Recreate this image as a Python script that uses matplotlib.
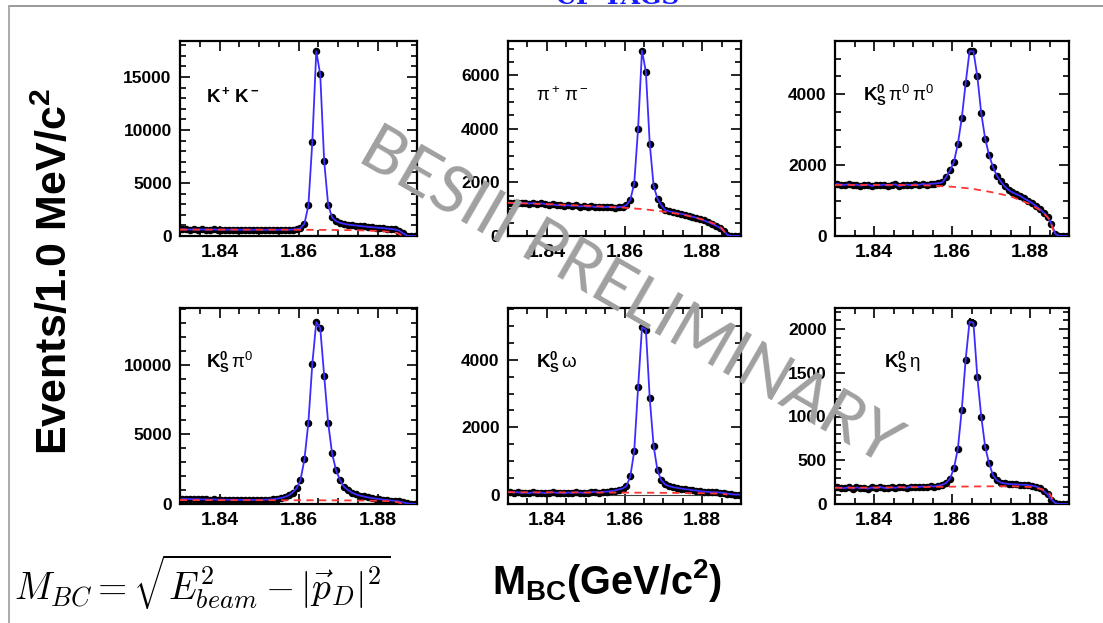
import numpy as np
import matplotlib.pyplot as plt
from matplotlib.lines import Line2D
from matplotlib.ticker import MultipleLocator, FormatStrFormatter

plt.rcParams['font.family'] = ['Liberation Sans', 'DejaVu Sans']
plt.rcParams['mathtext.fontset'] = 'custom'
plt.rcParams['mathtext.rm'] = 'Liberation Sans'
plt.rcParams['mathtext.it'] = 'Liberation Sans:italic'
plt.rcParams['mathtext.bf'] = 'Liberation Sans:bold'

# bin centres, 1 MeV bins between 1.83 and 1.89 GeV/c^2
mbc = np.arange(60) * 0.001 + 1.8305
bkg_mbc = [1.830, 1.835, 1.840, 1.845, 1.850, 1.855, 1.860, 1.865,
           1.870, 1.875, 1.880, 1.883, 1.885, 1.8865]

kk = [640, 620, 610, 630, 600, 620, 610, 600, 620, 600, 610, 590, 600, 610, 590,
      600, 590, 600, 580, 600, 590, 580, 600, 590, 580, 590, 600, 590, 610, 640,
      720, 1150, 2880, 8890, 17430, 15240, 7060, 2970, 1750, 1400, 1250, 1150, 1080,
      1030, 990, 950, 910, 870, 830, 800, 770, 740, 700, 660, 620, 500, 250, 20, 0, 0]
kk_bkg = [600, 600, 600, 598, 596, 593, 588, 580, 565, 540, 480, 400, 280, 0]

pipi = [1240, 1230, 1250, 1220, 1240, 1210, 1230, 1200, 1220, 1190, 1170, 1180, 1150,
        1160, 1130, 1150, 1120, 1140, 1100, 1120, 1090, 1110, 1080, 1100, 1070, 1090,
        1080, 1060, 1080, 1090, 1150, 1350, 1960, 4010, 6920, 6135, 3450, 1870, 1390,
        1150, 960, 920, 890, 860, 830, 800, 760, 720, 680, 630, 580, 520, 460, 390,
        310, 200, 40, 0, 0, 0]
pipi_bkg = [1240, 1215, 1190, 1160, 1130, 1095, 1055, 1000, 910, 800, 620, 470, 300, 0]

kspi0pi0 = [1470, 1450, 1440, 1460, 1430, 1450, 1420, 1440, 1450, 1410, 1440, 1430,
            1450, 1420, 1440, 1460, 1400, 1440, 1450, 1430, 1460, 1440, 1470, 1450,
            1470, 1480, 1490, 1510, 1660, 1850, 2090, 2600, 3320, 4310, 5210, 5210,
            4500, 3460, 2750, 2280, 1950, 1700, 1540, 1400, 1300, 1230, 1180, 1130,
            1060, 1000, 930, 850, 760, 660, 540, 340, 60, 0, 0, 0]
kspi0pi0_bkg = [1440, 1440, 1440, 1440, 1435, 1420, 1390, 1335, 1240, 1120, 900, 700, 470, 0]

kspi0 = [380, 360, 350, 340, 350, 330, 330, 320, 330, 310, 320, 310, 300, 310, 300,
         300, 290, 300, 290, 300, 300, 310, 320, 340, 380, 430, 500, 620, 820, 1120,
         1720, 3200, 5850, 10070, 13060, 12630, 9210, 5850, 3630, 2430, 1720, 1240,
         1000, 820, 700, 610, 540, 480, 430, 390, 350, 310, 280, 250, 220, 180, 110,
         40, 20, 10]
kspi0_bkg = [280, 278, 276, 274, 272, 270, 268, 265, 260, 250, 230, 200, 140, 0]

ksomega = [80, 60, 70, 50, 60, 40, 70, 50, 60, 40, 60, 70, 50, 60, 40, 60, 50, 70,
           60, 50, 60, 70, 80, 60, 80, 90, 100, 120, 150, 180, 250, 540, 1290, 3180,
           4965, 4900, 2855, 1440, 715, 420, 300, 250, 220, 200, 180, 160, 150, 130,
           120, 100, 90, 80, 70, 70, 60, 50, 30, 10, 0, 0]
ksomega_bkg = [70, 68, 66, 64, 62, 60, 58, 55, 52, 48, 40, 32, 22, 0]

kseta = [190, 185, 180, 195, 175, 190, 180, 185, 175, 190, 180, 195, 185, 180, 190,
         185, 195, 190, 185, 200, 190, 195, 200, 195, 205, 200, 210, 220, 240, 290,
         410, 630, 1075, 1650, 2085, 2070, 1450, 1000, 655, 465, 330, 270, 245, 235,
         230, 225, 225, 220, 220, 215, 210, 200, 180, 150, 110, 50, 10, 0, 0, 0]
kseta_bkg = [185, 186, 188, 190, 192, 195, 198, 200, 202, 203, 195, 170, 120, 0]

labels = [r'$\mathbf{K^+\,K^-}$', r'$\mathrm{\pi^+\,\pi^-}$',
          r'$\mathbf{K^0_S}\,\mathrm{\pi^0\,\pi^0}$', r'$\mathbf{K^0_S}\,\mathrm{\pi^0}$',
          r'$\mathbf{K^0_S}\,\mathrm{\omega}$', r'$\mathbf{K^0_S}\,\mathrm{\eta}$']
label_x = [0.11, 0.12, 0.12, 0.11, 0.12, 0.21]
ylims = [(0, 18400), (0, 7280), (0, 5500), (0, 14070), (-280, 5540), (0, 2240)]
y_major = [5000, 2000, 2000, 5000, 2000, 500]
y_minor = [1000, 500, 500, 1000, 500, 100]
counts = [kk, pipi, kspi0pi0, kspi0, ksomega, kseta]
bkgs = [kk_bkg, pipi_bkg, kspi0pi0_bkg, kspi0_bkg, ksomega_bkg, kseta_bkg]

W, H = 1103, 623
col_px = [(180, 417), (508, 741), (835, 1069)]
row_px = [(41, 236), (308, 504)]

fig = plt.figure(figsize=(W / 100, H / 100), dpi=100)

for k in range(6):
    r, c = divmod(k, 3)
    x0, x1 = col_px[c]
    y0, y1 = row_px[r]
    ax = fig.add_axes([x0 / W, 1 - y1 / H, (x1 - x0) / W, (y1 - y0) / H])
    n = np.array(counts[k], dtype=float)
    ax.errorbar(mbc, n, xerr=0.0005, yerr=np.sqrt(n), fmt='o', ms=4.4,
                color='black', elinewidth=1.4, capsize=0, zorder=3)
    ax.plot(mbc, n, color='#3d2cff', lw=1.3, zorder=4)
    ax.plot(bkg_mbc, bkgs[k], color='#ff3535', lw=1.3, ls='--', dashes=(4, 3), zorder=5)
    if ylims[k][0] < 0:
        ax.axhline(0, color='#444444', lw=0.8, zorder=2)
    ax.set_xlim(1.83, 1.89)
    ax.set_ylim(*ylims[k])
    ax.xaxis.set_major_locator(MultipleLocator(0.02))
    ax.xaxis.set_minor_locator(MultipleLocator(0.005))
    ax.xaxis.set_major_formatter(FormatStrFormatter('%.2f'))
    ax.yaxis.set_major_locator(MultipleLocator(y_major[k]))
    ax.yaxis.set_minor_locator(MultipleLocator(y_minor[k]))
    ax.yaxis.set_major_formatter(FormatStrFormatter('%d'))
    ax.tick_params(which='both', direction='in', top=True, right=True, width=1.2)
    ax.tick_params(which='major', length=7, pad=6)
    ax.tick_params(which='minor', length=4)
    ax.tick_params(axis='x', labelsize=14)
    ax.tick_params(axis='y', labelsize=12.5)
    for lab in ax.get_xticklabels() + ax.get_yticklabels():
        lab.set_fontweight('bold')
    for s in ax.spines.values():
        s.set_linewidth(1.6)
    ax.text(label_x[k], 0.72, labels[k], transform=ax.transAxes, fontsize=13.5,
            va='center', ha='left')

fig.text(55 / W, 1 - 272 / H, r'Events/1.0 MeV/c$^\mathbf{2}$', rotation=90,
         fontsize=31, fontweight='bold', ha='center', va='center')
fig.text(607 / W, 1 - 580 / H, r'M$_\mathbf{BC}$(GeV/c$^\mathbf{2}$)',
         fontsize=28.5, fontweight='bold', ha='center', va='center')
fig.text(14 / W, 1 - 582 / H,
         r'$M_{BC}=\sqrt{E_{beam}^2-|\vec{p}_D|^2}$',
         math_fontfamily='cm', fontsize=27, ha='left', va='center')

# watermark across the panels
fig.text(630 / W, 1 - 298 / H, 'BESIII PRELIMINARY', rotation=-30,
         rotation_mode='anchor', fontsize=47, color='#a0a0a0',
         family=['Lato', 'DejaVu Sans'], fontweight='normal',
         ha='center', va='center', zorder=20)

# slide frame and cut-off heading
fig.add_artist(Line2D([9 / W, 1], [1 - 6 / H, 1 - 6 / H], color='#999999', lw=1.4))
fig.add_artist(Line2D([9 / W, 9 / W], [0, 1 - 6 / H], color='#aaaaaa', lw=1.4))
fig.text(618 / W, 1 - 4 / H, 'CP TAGS', color='#1a1aff', family='DejaVu Serif',
         fontweight='bold', fontsize=18, ha='center', va='baseline')

fig.savefig('out.png', dpi=100)
